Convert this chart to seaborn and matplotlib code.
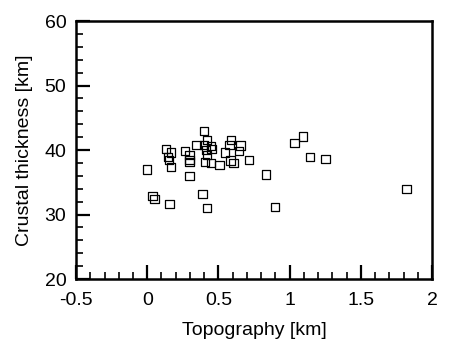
import seaborn as sns
import matplotlib.pyplot as plt
from matplotlib.ticker import MultipleLocator, FormatStrFormatter

# values
topography = [0.000, 0.037, 0.050, 0.130, 0.148, 0.152, 0.167, 0.167, 0.157,
              0.267, 0.297, 0.297, 0.297, 0.297, 0.345, 0.397, 0.400, 0.418,
              0.412, 0.418, 0.408, 0.446, 0.452, 0.450, 0.388, 0.418, 0.507,
              0.548, 0.577, 0.586, 0.584, 0.607, 0.646, 0.656, 0.716, 0.834,
              0.897, 1.034, 1.094, 1.143, 1.253, 1.822]
crust = [37.0, 32.9, 32.4, 40.2, 38.9, 38.5, 39.6, 37.4, 31.6,
         39.9, 39.2, 38.5, 38.1, 36.0, 40.75, 43.0, 40.8, 41.6,
         40.0, 39.2, 38.2, 40.6, 40.2, 38.0, 33.2, 31.0, 37.7,
         39.6, 40.8, 41.6, 38.4, 38.0, 39.9, 40.7, 38.5, 36.2,
         31.2, 41.1, 42.1, 38.9, 38.6, 34.0]

sns.set_style("ticks")
plt.rcParams['font.family'] = ['Liberation Sans', 'DejaVu Sans']
plt.rcParams['axes.unicode_minus'] = False
plt.rcParams['text.color'] = 'black'
plt.rcParams['axes.labelcolor'] = 'black'

fig = plt.figure(figsize=(4.5, 3.56), dpi=100)
ax = fig.add_axes([0.169, 0.216, 0.791, 0.725])

sns.scatterplot(x=topography, y=crust, marker='s', s=36, facecolor='none',
                edgecolor='black', linewidth=0.9, ax=ax)

ax.set_xlim(-0.5, 2)
ax.set_ylim(20, 60)
ax.xaxis.set_major_locator(MultipleLocator(0.5))
ax.xaxis.set_minor_locator(MultipleLocator(0.1))
ax.xaxis.set_major_formatter(FormatStrFormatter('%g'))
ax.yaxis.set_major_locator(MultipleLocator(10))
ax.yaxis.set_minor_locator(MultipleLocator(2))
ax.tick_params(which='both', direction='in', top=False, right=False,
               labelsize=14, colors='black')
ax.tick_params(which='major', length=10, width=1.6)
ax.tick_params(which='minor', length=5, width=1.2)
ax.tick_params(axis='x', which='major', pad=9)
ax.tick_params(axis='y', which='major', pad=7)
for sp in ax.spines.values():
    sp.set_linewidth(1.8)
    sp.set_color('black')

ax.set_xlabel("Topography [km]", fontsize=14, labelpad=10, color='black')
ax.set_ylabel("Crustal thickness [km]", fontsize=14, labelpad=8, color='black')

fig.savefig("out.png", dpi=100)
